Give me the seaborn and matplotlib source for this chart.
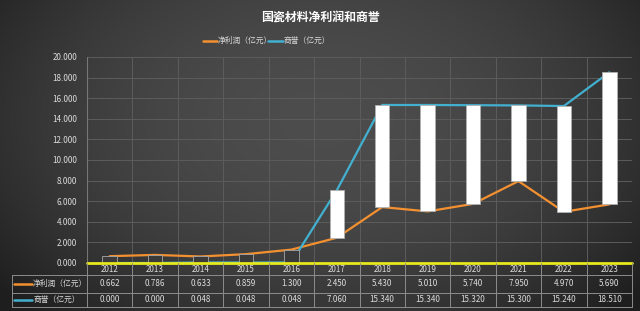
import numpy as np
import pandas as pd
import matplotlib
matplotlib.use("Agg")
import matplotlib.pyplot as plt
import seaborn as sns

years = ["2012", "2013", "2014", "2015", "2016", "2017", "2018", "2019", "2020", "2021", "2022", "2023"]
net_profit = [0.662, 0.786, 0.633, 0.859, 1.300, 2.450, 5.430, 5.010, 5.740, 7.950, 4.970, 5.690]
goodwill = [0.000, 0.000, 0.048, 0.048, 0.048, 7.060, 15.340, 15.340, 15.320, 15.300, 15.240, 18.510]
name_np = "净利润（亿元）"
name_gw = "商誉（亿元）"
title = "国瓷材料净利润和商誉"
yticks = [0, 2, 4, 6, 8, 10, 12, 14, 16, 18, 20]

sns.set_theme(style="dark")
plt.rcParams["font.family"] = ["Noto Sans CJK SC", "DejaVu Sans"]

ORANGE = "#f3902f"
BLUE = "#42b0cf"
TXT = "#dcdcdc"
GRID = "#5c5c5c"
TBL = "#8c8c8c"

W, H = 640, 311
fig = plt.figure(figsize=(W / 100, H / 100), dpi=100)

# background radial gradient
bg = fig.add_axes([0, 0, 1, 1], zorder=-10)
yy, xx = np.mgrid[0:H, 0:W]
r2 = ((xx - W * 0.5) / (W * 0.62)) ** 2 + ((yy - H * 0.38) / (H * 0.85)) ** 2
v = np.clip(0.30 - 0.17 * r2, 0.12, 0.31)
img = np.dstack([v, v, v])
bg.imshow(img, extent=[0, W, H, 0], aspect="auto")
bg.set_xlim(0, W)
bg.set_ylim(H, 0)
bg.axis("off")

# main axes
L, R, T, B = 87, 632, 57, 263
ax = fig.add_axes([L / W, 1 - B / H, (R - L) / W, (B - T) / H])
ax.set_facecolor("none")

n = len(years)
x = np.arange(n)
df = pd.DataFrame({"x": np.concatenate([x, x]),
                   "v": net_profit + goodwill,
                   "s": [name_np] * n + [name_gw] * n})
sns.lineplot(data=df, x="x", y="v", hue="s", palette={name_np: ORANGE, name_gw: BLUE},
             linewidth=1.6, ax=ax, legend=False, zorder=3)

npa = np.array(net_profit)
gwa = np.array(goodwill)
lo = np.minimum(npa, gwa)
hi = np.maximum(npa, gwa)
up = gwa >= npa
colors = ["white" if u else "#3a3a3a" for u in up]
edges = ["#b0b0b0" if u else "#a8a8a8" for u in up]
ax.bar(x, hi - lo, bottom=lo, width=0.32, color=colors, edgecolor=edges, linewidth=0.6, zorder=4)

ax.set_xlim(-0.5, n - 0.5)
ax.set_ylim(0, 20)
ax.set_yticks(yticks)
ax.set_yticklabels([f"{t:.3f}" for t in yticks], color=TXT, fontsize=5.8)
ax.set_xticks([])
ax.set_xlabel("")
ax.set_ylabel("")
ax.tick_params(axis="y", length=0, pad=7)
for yv in yticks[1:]:
    ax.axhline(yv, color=GRID, lw=0.7, zorder=1)
for k in range(n + 1):
    ax.axvline(k - 0.5, color=GRID, lw=0.7, zorder=1)
for s in ax.spines.values():
    s.set_visible(False)
ax.axvline(-0.5, color="#777777", lw=0.8, zorder=1)
ax.axhline(0, color="#e8e81e", lw=2.0, zorder=5, clip_on=False)

# overlay for table, title, legend (pixel coords)
ov = fig.add_axes([0, 0, 1, 1], zorder=10)
ov.set_xlim(0, W)
ov.set_ylim(H, 0)
ov.axis("off")
ov.patch.set_alpha(0)

ov.text(W / 2, 17, title, ha="center", va="center", color="white", fontsize=8.6, fontweight="bold")

FS_LEG = 5.6
ov.plot([203, 217], [41, 41], color=ORANGE, lw=1.8)
t1 = ov.text(218, 41, name_np, ha="left", va="center", color=TXT, fontsize=FS_LEG)
ov.plot([268, 283], [41, 41], color=BLUE, lw=1.8)
ov.text(284, 41, name_gw, ha="left", va="center", color=TXT, fontsize=FS_LEG)

cw = (R - L) / n
rows = [263, 275, 292.5, 307]
TL = 12
ov.plot([TL, R], [rows[1], rows[1]], color=TBL, lw=0.7)
ov.plot([TL, R], [rows[2], rows[2]], color=TBL, lw=0.7)
ov.plot([TL, R], [rows[3], rows[3]], color=TBL, lw=0.7)
ov.plot([TL, TL], [rows[1], rows[3]], color=TBL, lw=0.7)
for k in range(n + 1):
    xb = L + k * cw
    ov.plot([xb, xb], [rows[0], rows[3]], color=TBL, lw=0.7)
for i, yr in enumerate(years):
    xc = L + (i + 0.5) * cw
    ov.text(xc, (rows[0] + rows[1]) / 2 + 0.5, yr, ha="center", va="center", color=TXT, fontsize=5.8)
    ov.text(xc, (rows[1] + rows[2]) / 2, f"{net_profit[i]:.3f}", ha="center", va="center", color=TXT, fontsize=5.8)
    ov.text(xc, (rows[2] + rows[3]) / 2, f"{goodwill[i]:.3f}", ha="center", va="center", color=TXT, fontsize=5.8)
ym1 = (rows[1] + rows[2]) / 2
ym2 = (rows[2] + rows[3]) / 2
ov.plot([14, 32], [ym1, ym1], color=ORANGE, lw=1.8)
ov.text(33, ym1, name_np, ha="left", va="center", color=TXT, fontsize=FS_LEG)
ov.plot([14, 32], [ym2, ym2], color=BLUE, lw=1.8)
ov.text(33, ym2, name_gw, ha="left", va="center", color=TXT, fontsize=FS_LEG)

fig.savefig("out.png", dpi=100)
